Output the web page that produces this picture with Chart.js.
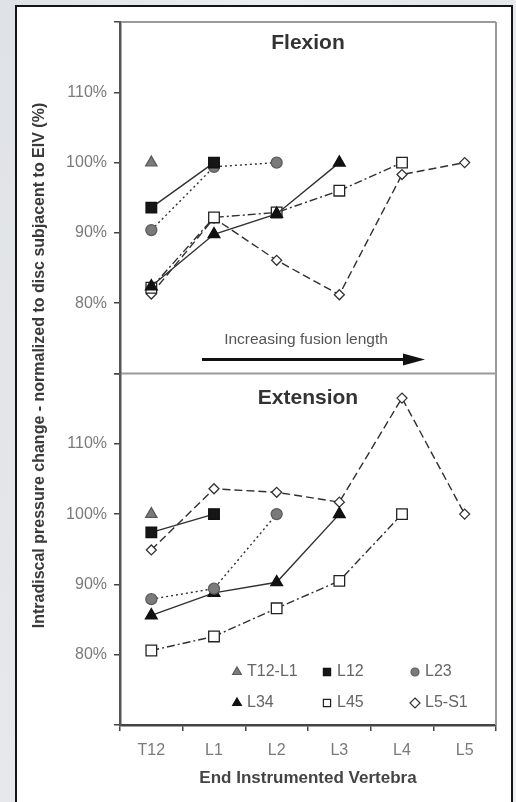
<!DOCTYPE html>
<html>
<head>
<meta charset="utf-8">
<script src="https://cdn.jsdelivr.net/npm/chart.js@4/dist/chart.umd.min.js"></script>
<style>
  html, body { margin: 0; padding: 0; }
  body {
    width: 516px; height: 802px; overflow: hidden; position: relative;
    background: linear-gradient(100deg, #dfe2e6 0%, #eceef0 40%, #e3e6e9 70%, #eef0f2 100%);
  }
  #frame {
    position: absolute; left: 15px; top: 5px; width: 494px; height: 810px;
    border: 2px solid #151515; background: #ffffff;
  }
  #c { position: absolute; left: 0; top: 0; }
</style>
</head>
<body>
<div id="frame"></div>
<canvas id="c" width="516" height="802"></canvas>
<script>
// ---------------- DATA ----------------
const categories = ['T12', 'L1', 'L2', 'L3', 'L4', 'L5'];
const seriesNames = ['T12-L1', 'L12', 'L23', 'L34', 'L45', 'L5-S1'];

// Flexion (% normalized)
const flexT12L1 = [100, null, null, null, null, null];
const flexL12   = [93.6, 100, null, null, null, null];
const flexL23   = [90.4, 99.4, 100, null, null, null];
const flexL34   = [82.4, 89.8, 92.7, 100, null, null];
const flexL45   = [82.2, 92.2, 92.9, 96.0, 100, null];
const flexL5S1  = [81.3, 92.1, 86.1, 81.2, 98.3, 100];

// Extension (% normalized)
const extT12L1 = [100, null, null, null, null, null];
const extL12   = [97.4, 100, null, null, null, null];
const extL23   = [87.9, 89.4, 100, null, null, null];
const extL34   = [85.6, 88.8, 90.3, 100, null, null];
const extL45   = [80.6, 82.6, 86.6, 90.5, 100, null];
const extL5S1  = [94.9, 103.6, 103.1, 101.7, 116.5, 100];

const yMin = 70, yMax = 120, yStep = 10;
const yLabelled = [80, 90, 100, 110];

const panelTitles = ['Flexion', 'Extension'];
const arrowText = 'Increasing fusion length';
const yTitle = 'Intradiscal pressure change - normalized to disc subjacent to EIV (%)';
const xTitle = 'End Instrumented Vertebra';

// ---------------- STYLES ----------------
const FONT = '"Liberation Sans", Arial, Helvetica, sans-serif';
const styles = [
  { pointStyle: 'triangle', bg: '#7c7c7c', border: '#5a5a5a', r: 6.5, dash: [], showLine: false },
  { pointStyle: 'rect', bg: '#161616', border: '#111', r: 7.5, dash: [] },
  { pointStyle: 'circle', bg: '#7a7a7a', border: '#5c5c5c', r: 5.5, dash: [2, 3] },
  { pointStyle: 'triangle', bg: '#111', border: '#111', r: 6.8, dash: [] },
  { pointStyle: 'rect', bg: '#ffffff', border: '#222', r: 7.5, dash: [8, 3, 2, 3] },
  { pointStyle: 'rectRot', bg: '#ffffff', border: '#333', r: 5, dash: [8, 4] }
];

const flexSeries = [flexT12L1, flexL12, flexL23, flexL34, flexL45, flexL5S1];
const extSeries = [extT12L1, extL12, extL23, extL34, extL45, extL5S1];

function makeDataset(name, data, st, axis) {
  return {
    label: name,
    data: data,
    yAxisID: axis,
    showLine: st.showLine !== false,
    borderColor: '#303030',
    borderWidth: 1.4,
    borderDash: st.dash,
    pointStyle: st.pointStyle,
    pointRadius: st.r,
    pointHoverRadius: st.r,
    pointBackgroundColor: st.bg,
    pointBorderColor: st.border,
    pointBorderWidth: 1.3,
    fill: false,
    tension: 0,
    spanGaps: false
  };
}

const datasets = [];
seriesNames.forEach((n, i) => datasets.push(makeDataset(n, flexSeries[i], styles[i], 'yFlex')));
seriesNames.forEach((n, i) => datasets.push(makeDataset(n, extSeries[i], styles[i], 'yExt')));

function yAxis(weight) {
  return {
    type: 'linear',
    position: 'left',
    stack: 'panels',
    stackWeight: 1,
    weight: weight,
    min: yMin, max: yMax,
    ticks: {
      stepSize: yStep,
      color: '#7a7a7a',
      font: { family: FONT, size: 16 },
      padding: 7,
      callback: v => (yLabelled.includes(v) ? v + '%' : '')
    },
    grid: { drawOnChartArea: false, drawTicks: true, tickLength: 6, color: '#444', lineWidth: 1.5 },
    border: { display: true, color: '#555', width: 2.5 },
    afterFit: s => { s.width = 60; }
  };
}

function drawMarker(ctx, st, x, y, r) {
  ctx.save();
  ctx.fillStyle = st.bg;
  ctx.strokeStyle = st.border;
  ctx.lineWidth = 1.2;
  ctx.setLineDash([]);
  ctx.beginPath();
  if (st.pointStyle === 'triangle') {
    ctx.moveTo(x, y - r);
    ctx.lineTo(x + r * 0.87, y + r * 0.5);
    ctx.lineTo(x - r * 0.87, y + r * 0.5);
    ctx.closePath();
  } else if (st.pointStyle === 'rect') {
    const s = r * 0.72;
    ctx.rect(x - s, y - s, 2 * s, 2 * s);
  } else if (st.pointStyle === 'circle') {
    ctx.arc(x, y, r * 0.8, 0, Math.PI * 2);
  } else {
    ctx.moveTo(x, y - r); ctx.lineTo(x + r, y); ctx.lineTo(x, y + r); ctx.lineTo(x - r, y);
    ctx.closePath();
  }
  ctx.fill();
  ctx.stroke();
  ctx.restore();
}

const decor = {
  id: 'decor',
  beforeDatasetsDraw(chart) {
    const { ctx, chartArea: a } = chart;
    const yF = chart.scales.yFlex;
    ctx.save();
    ctx.strokeStyle = '#9a9a9a';
    ctx.lineWidth = 2;
    ctx.beginPath();
    ctx.moveTo(a.left + 1, a.top); ctx.lineTo(a.right, a.top);
    ctx.moveTo(a.right, a.top); ctx.lineTo(a.right, a.bottom);
    ctx.moveTo(a.left + 1, yF.bottom); ctx.lineTo(a.right, yF.bottom);
    ctx.stroke();
    ctx.restore();
  },
  afterDatasetsDraw(chart) {
    const { ctx, chartArea: a } = chart;
    const yF = chart.scales.yFlex, yE = chart.scales.yExt;
    const cx = (a.left + a.right) / 2;
    ctx.save();
    // panel titles
    ctx.fillStyle = '#333';
    ctx.textAlign = 'center';
    ctx.textBaseline = 'middle';
    ctx.font = 'bold 21px ' + FONT;
    ctx.fillText(panelTitles[0], cx, yF.top + 21);
    ctx.fillText(panelTitles[1], cx, yE.top + 25);
    // arrow annotation
    ctx.fillStyle = '#555';
    ctx.font = '15.5px ' + FONT;
    ctx.fillText(arrowText, cx - 2, yF.bottom - 34);
    const ay = yF.bottom - 14;
    const ax0 = a.left + 82, ax1 = a.left + 305;
    ctx.strokeStyle = '#111';
    ctx.lineWidth = 3;
    ctx.beginPath(); ctx.moveTo(ax0, ay); ctx.lineTo(ax1 - 16, ay); ctx.stroke();
    ctx.fillStyle = '#111';
    ctx.beginPath(); ctx.moveTo(ax1, ay); ctx.lineTo(ax1 - 22, ay - 6); ctx.lineTo(ax1 - 22, ay + 6); ctx.closePath(); ctx.fill();
    // legend
    const colX = [a.left + 117, a.left + 207, a.left + 295];
    const rowY = [yE.bottom - 53, yE.bottom - 22];
    ctx.font = '16px ' + FONT;
    ctx.textAlign = 'left';
    seriesNames.forEach((n, i) => {
      const x = colX[i % 3], y = rowY[Math.floor(i / 3)];
      drawMarker(ctx, styles[i], x, y, 5);
      ctx.fillStyle = '#666';
      ctx.fillText(n, x + 10, y);
    });
    // y title
    ctx.translate(40, (a.top + a.bottom) / 2 - 8);
    ctx.rotate(-Math.PI / 2);
    ctx.textAlign = 'center';
    ctx.fillStyle = '#3a3a3a';
    ctx.font = 'bold 16px ' + FONT;
    ctx.fillText(yTitle, 0, 0);
    ctx.restore();
  }
};

new Chart(document.getElementById('c'), {
  type: 'line',
  data: { labels: categories, datasets: datasets },
  options: {
    responsive: false,
    animation: false,
    devicePixelRatio: 1,
    layout: { padding: { left: 60, right: 20, top: 22, bottom: 7 } },
    plugins: { legend: { display: false }, tooltip: { enabled: false }, title: { display: false } },
    scales: {
      x: {
        type: 'category',
        offset: true,
        grid: { offset: true, drawOnChartArea: false, drawTicks: true, tickLength: 6, color: '#444', lineWidth: 1.5 },
        border: { display: true, color: '#444', width: 2.5 },
        ticks: { color: '#7a7a7a', font: { family: FONT, size: 16 }, padding: 10 },
        title: { display: true, text: xTitle, color: '#444', font: { family: FONT, size: 17, weight: 'bold' }, padding: { top: 4, bottom: 6 } },
        afterFit: s => { s.height = 70; }
      },
      yExt: yAxis(1),
      yFlex: yAxis(2)
    }
  },
  plugins: [decor]
});
</script>
</body>
</html>
